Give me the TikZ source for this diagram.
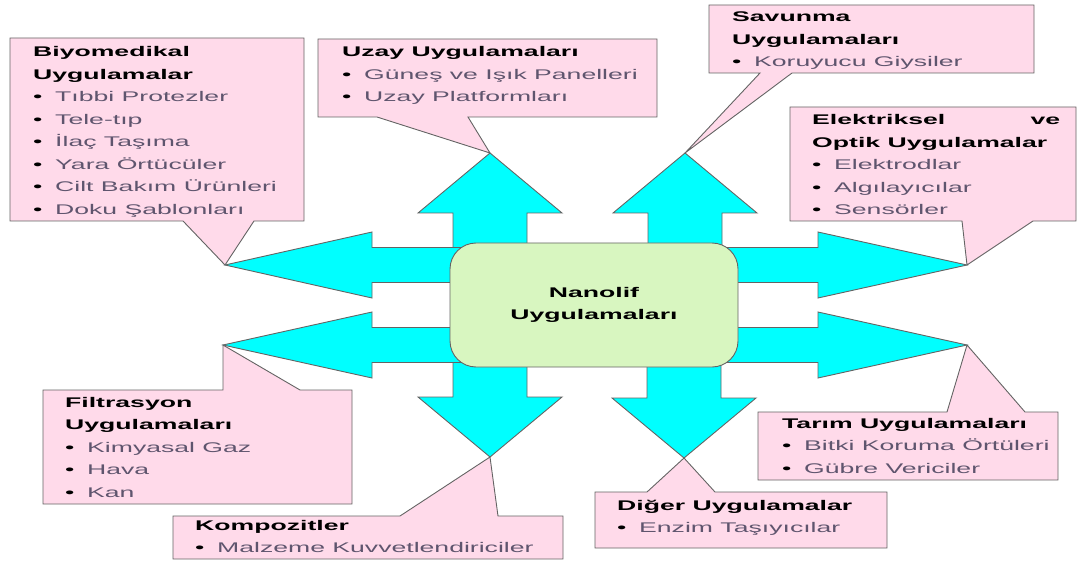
\documentclass[tikz,border=0pt]{standalone}
\usepackage{fontspec}
\setmainfont{Liberation Sans}[FakeStretch=1.9]
\definecolor{calloutpink}{RGB}{255,218,234}
\definecolor{edgegray}{RGB}{100,100,100}
\definecolor{arrowcyan}{RGB}{0,255,255}
\definecolor{nanogreen}{RGB}{216,246,192}
\definecolor{itemtxt}{RGB}{95,85,110}
\newcommand{\blt}[1]{\makebox[22pt][l]{\textbullet}\textcolor{itemtxt}{#1}}

\begin{document}
\begin{tikzpicture}[x=1pt, y=-1pt,
  callout/.style={fill=calloutpink, draw=edgegray, line width=0.9pt},
  blockarrow/.style={fill=arrowcyan, draw=edgegray, line width=0.9pt},
  calltext/.style={anchor=base west, inner sep=0pt, align=left, font=\fontsize{14}{22.5}\selectfont},
  hub/.style={fill=nanogreen, draw=edgegray, line width=0.9pt, rounded corners=26pt,
    minimum width=288pt, minimum height=124pt, align=center, font=\fontsize{14}{22.5}\selectfont\bfseries}]
\useasboundingbox (0,0) rectangle (1078,561);
% arrow tips
\coordinate (T_bio) at (225,265);
\coordinate (T_uzay) at (490,153);
\coordinate (T_sav) at (685,153);
\coordinate (T_elk) at (967,265);
\coordinate (T_fil) at (223,345);
\coordinate (T_kom) at (490,457);
\coordinate (T_dig) at (684,458);
\coordinate (T_tar) at (967,345);
% callouts
\draw[callout] (10,38) -- (304,38) -- (304,221) -- (254,221) -- (T_bio) -- (183,221) -- (10,221) -- cycle;
\draw[callout] (318,39) -- (657,39) -- (657,117) -- (468,117) -- (T_uzay) -- (377,117) -- (318,117) -- cycle;
\draw[callout] (709,5) -- (1034,5) -- (1034,73) -- (792,73) -- (T_sav) -- (760,73) -- (709,73) -- cycle;
\draw[callout] (790,107) -- (1076,107) -- (1076,221) -- (1033,221) -- (T_elk) -- (962,221) -- (790,221) -- cycle;
\draw[callout] (43,390) -- (223,390) -- (T_fil) -- (300,390) -- (352,390) -- (352,504) -- (43,504) -- cycle;
\draw[callout] (173,516) -- (400,516) -- (T_kom) -- (498,516) -- (563,516) -- (563,559) -- (173,559) -- cycle;
\draw[callout] (595,492) -- (647,492) -- (T_dig) -- (715,492) -- (887,492) -- (887,548) -- (595,548) -- cycle;
\draw[callout] (758,412) -- (947,412) -- (T_tar) -- (1025,412) -- (1058,412) -- (1058,480) -- (758,480) -- cycle;
% block arrows
\draw[blockarrow] (T_uzay) -- ++(72,60) -- ++(-35,0) -- ++(0,90) -- ++(-74,0) -- ++(0,-90) -- ++(-35,0) -- cycle;
\draw[blockarrow] (T_sav) -- ++(72,60) -- ++(-35,0) -- ++(0,90) -- ++(-74,0) -- ++(0,-90) -- ++(-35,0) -- cycle;
\draw[blockarrow] (T_kom) -- ++(72,-60) -- ++(-35,0) -- ++(0,-90) -- ++(-74,0) -- ++(0,90) -- ++(-35,0) -- cycle;
\draw[blockarrow] (T_dig) -- ++(72,-60) -- ++(-35,0) -- ++(0,-90) -- ++(-74,0) -- ++(0,90) -- ++(-35,0) -- cycle;
\draw[blockarrow] (T_bio) -- ++(147,-33) -- ++(0,15.5) -- ++(150,0) -- ++(0,35) -- ++(-150,0) -- ++(0,15.5) -- cycle;
\draw[blockarrow] (T_fil) -- ++(149,-33) -- ++(0,15.5) -- ++(150,0) -- ++(0,35) -- ++(-150,0) -- ++(0,15.5) -- cycle;
\draw[blockarrow] (T_elk) -- ++(-149,-33) -- ++(0,15.5) -- ++(-150,0) -- ++(0,35) -- ++(150,0) -- ++(0,15.5) -- cycle;
\draw[blockarrow] (T_tar) -- ++(-149,-33) -- ++(0,15.5) -- ++(-150,0) -- ++(0,35) -- ++(150,0) -- ++(0,15.5) -- cycle;
% centre
\node[hub] (nano) at (594,305) {Nanolif\\Uygulamaları};
% texts (placed at the baseline of their last line)
\node[calltext] (bio) at (33,214.5) {\textbf{Biyomedikal}\\\textbf{Uygulamalar}\\\blt{Tıbbi Protezler}\\\blt{Tele-tıp}\\\blt{İlaç Taşıma}\\\blt{Yara Örtücüler}\\\blt{Cilt Bakım Ürünleri}\\\blt{Doku Şablonları}};
\node[calltext] (uzay) at (342,102) {\textbf{Uzay Uygulamaları}\\\blt{Güneş ve Işık Panelleri}\\\blt{Uzay Platformları}};
\node[calltext] (sav) at (732,67) {\textbf{Savunma}\\\textbf{Uygulamaları}\\\blt{Koruyucu Giysiler}};
\node[calltext] (elk) at (812,215) {\makebox[248pt][l]{\textbf{Elektriksel}\hfill\textbf{ve}}\\\textbf{Optik Uygulamalar}\\\blt{Elektrodlar}\\\blt{Algılayıcılar}\\\blt{Sensörler}};
\node[calltext] (fil) at (65,497) {\textbf{Filtrasyon}\\\textbf{Uygulamaları}\\\blt{Kimyasal Gaz}\\\blt{Hava}\\\blt{Kan}};
\node[calltext] (kom) at (195,552.5) {\textbf{Kompozitler}\\\blt{Malzeme Kuvvetlendiriciler}};
\node[calltext] (tar) at (782,473) {\textbf{Tarım Uygulamaları}\\\blt{Bitki Koruma Örtüleri}\\\blt{Gübre Vericiler}};
\node[calltext] (dig) at (617,532.5) {\textbf{Diğer Uygulamalar}\\\blt{Enzim Taşıyıcılar}};
\end{tikzpicture}
\end{document}
